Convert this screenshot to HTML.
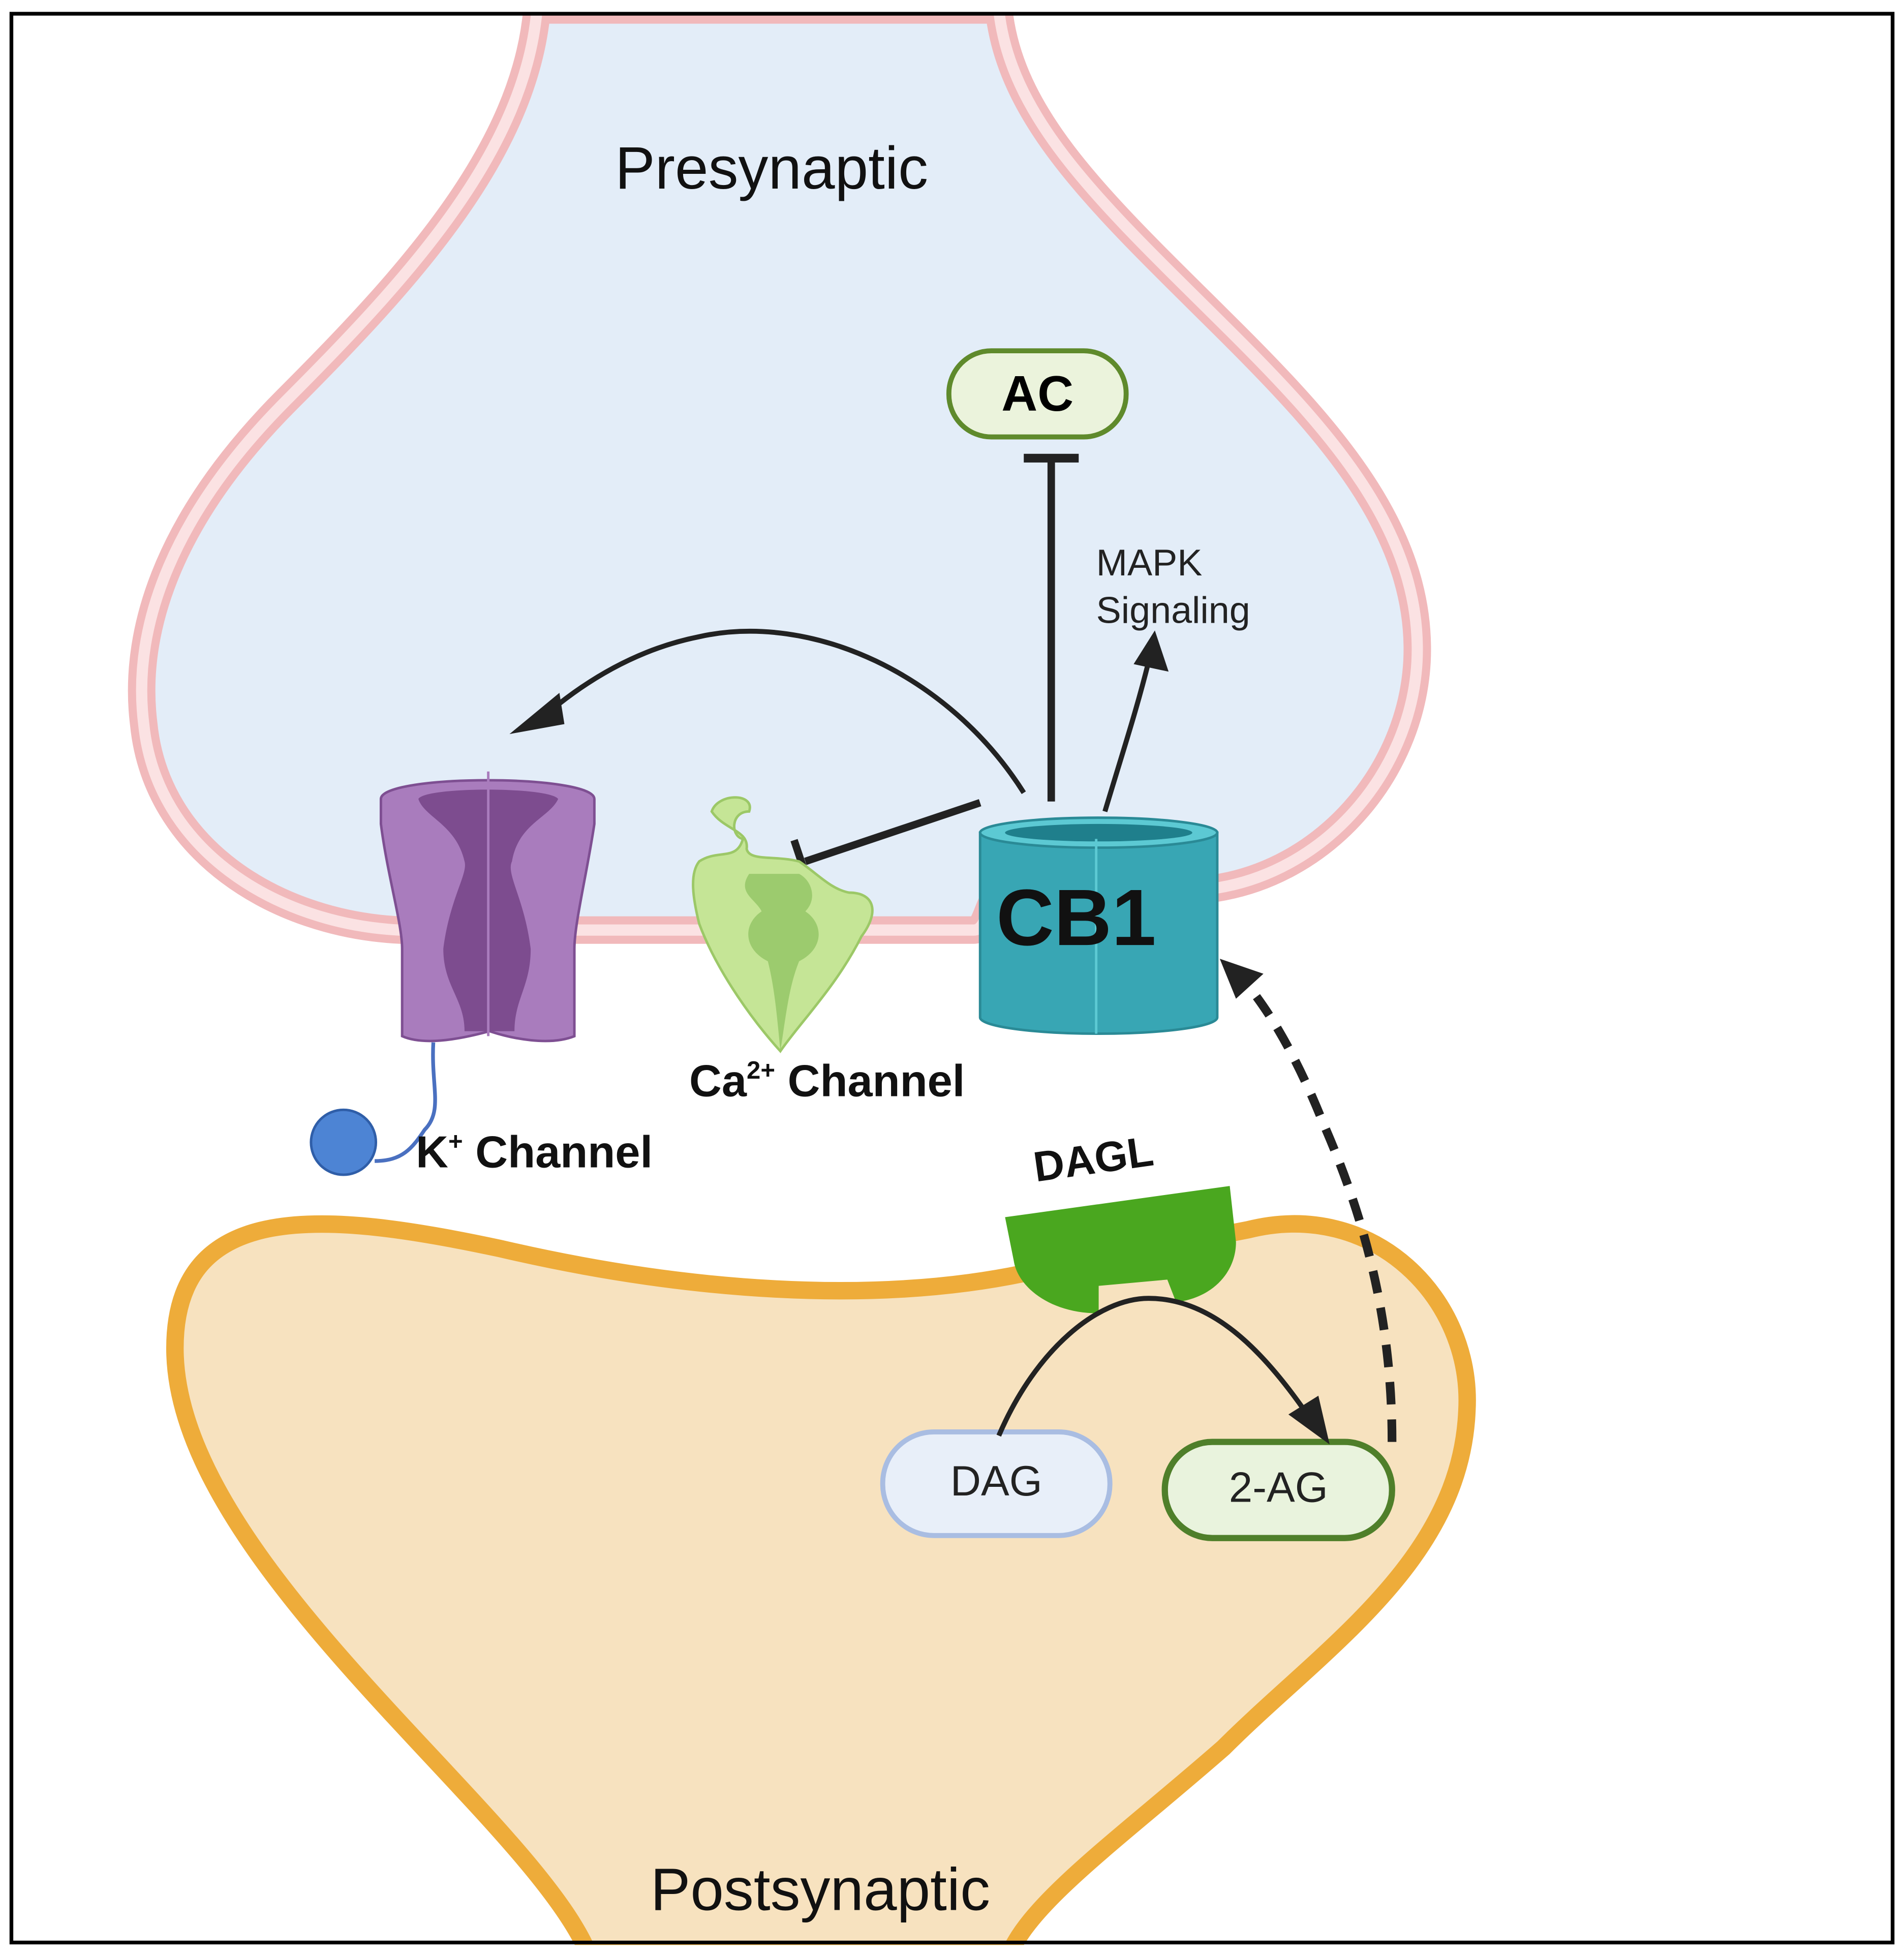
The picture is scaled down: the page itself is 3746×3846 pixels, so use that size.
<!DOCTYPE html>
<html><head><meta charset="utf-8"><style>html,body{margin:0;padding:0;background:#fff}svg{display:block}</style></head>
<body>
<svg width="3746" height="3846" viewBox="0 0 1525 1566" xmlns="http://www.w3.org/2000/svg" font-family="Liberation Sans, sans-serif">
<rect x="0" y="0" width="1525" height="1566" fill="#fff"/>
<!-- Presynaptic -->
<path d="M430 8 C420 120,330 220,230 320 C140 410,105 500,115 580 C125 680,220 740,320 745 L780 745 C790 745,790 725,800 715 L970 712 C1060 700,1130 620,1135 530 C1140 430,1070 350,990 270 C890 170,810 100,800 8 Z" fill="#e3edf8" stroke="#f1b9bb" stroke-width="22"/>
<path d="M430 8 C420 120,330 220,230 320 C140 410,105 500,115 580 C125 680,220 740,320 745 L780 745 C790 745,790 725,800 715 L970 712 C1060 700,1130 620,1135 530 C1140 430,1070 350,990 270 C890 170,810 100,800 8" fill="none" stroke="#fbe2e3" stroke-width="9"/>
<rect x="0" y="0" width="1525" height="10" fill="#fff"/>
<!-- Postsynaptic -->
<path d="M470 1562 C420 1450,140 1250,140 1080 C140 960,260 970,400 1000 C550 1035,700 1045,820 1020 L1000 985 C1100 960,1180 1040,1175 1130 C1170 1250,1060 1320,980 1400 C900 1470,830 1520,810 1562 Z" fill="#f7e2bf" stroke="#eeac3a" stroke-width="14"/>
<!-- border -->
<rect x="9" y="11" width="1507" height="1545" fill="none" stroke="#000" stroke-width="3"/>
<rect x="0" y="1558" width="1525" height="8" fill="#fff"/>
<text x="618" y="151" font-size="48" text-anchor="middle" fill="#111">Presynaptic</text>
<text x="657" y="1530" font-size="48" text-anchor="middle" fill="#111">Postsynaptic</text>
<!-- AC -->
<rect x="760" y="281" width="142" height="69" rx="34" fill="#ebf3dc" stroke="#5f8a2c" stroke-width="4"/>
<text x="831" y="329" font-size="40" font-weight="bold" text-anchor="middle">AC</text>
<line x1="842" y1="642" x2="842" y2="368" stroke="#222" stroke-width="6"/>
<line x1="820" y1="367" x2="864" y2="367" stroke="#222" stroke-width="7"/>
<text x="878" y="461" font-size="30" fill="#222">MAPK</text>
<text x="878" y="499" font-size="30" fill="#222">Signaling</text>
<path d="M885 650 C900 600,910 570,920 530" fill="none" stroke="#222" stroke-width="4"/>
<polygon points="925,505 936,538 908,532" fill="#222"/>
<path d="M820 635 C760 540,650 490,560 510 C510 520,470 545,440 570" fill="none" stroke="#222" stroke-width="4"/>
<polygon points="408,588 448,555 452,580" fill="#222"/>
<line x1="785" y1="643" x2="645" y2="690" stroke="#222" stroke-width="6"/>
<line x1="636" y1="673" x2="649" y2="712" stroke="#222" stroke-width="6"/>
<!-- CB1 -->
<path d="M785 667 L785 815 A95 13 0 0 0 975 815 L975 667 Z" fill="#38a6b4" stroke="#2a8a96" stroke-width="2"/>
<ellipse cx="880" cy="667" rx="95" ry="12" fill="#5cc9d3" stroke="#2a8a96" stroke-width="2"/>
<ellipse cx="880" cy="667" rx="75" ry="7" fill="#1f7f8c"/>
<line x1="878" y1="672" x2="878" y2="828" stroke="#5cc9d3" stroke-width="2"/>
<text x="862" y="757" font-size="64" font-weight="bold" text-anchor="middle" fill="#111">CB1</text>
<!-- K channel -->
<path d="M305 640 C305 620,476 620,476 640 L476 660 C470 700,460 740,460 760 L460 830 C440 838,410 832,392 826 C370 832,340 838,322 830 L322 760 C322 740,310 700,305 660 Z" fill="#a97cbd" stroke="#7e4f92" stroke-width="2"/>
<path d="M335 640 C340 630,440 630,447 640 C440 655,415 660,410 690 C405 700,420 720,425 760 C425 790,412 800,412 826 L372 826 C372 800,355 790,355 760 C360 720,375 700,372 690 C365 660,340 655,335 640 Z" fill="#7d4c8f"/>
<line x1="391" y1="618" x2="391" y2="830" stroke="#a97cbd" stroke-width="2"/>
<path d="M347 835 C345 870,355 890,340 905 C330 920,322 930,300 930" fill="none" stroke="#4a70c0" stroke-width="3"/>
<circle cx="275" cy="915" r="26" fill="#4d84d4" stroke="#2f5ea8" stroke-width="2"/>
<text x="333" y="935" font-size="36" font-weight="bold" fill="#111">K<tspan font-size="20" dy="-14">+</tspan><tspan dy="14"> Channel</tspan></text>
<!-- Ca channel -->
<path d="M570 650 C575 635,605 635,600 650 C585 650,585 670,595 672 C590 690,575 680,560 690 C552 700,555 720,560 740 C575 780,605 820,625 842 C640 820,670 790,690 750 C705 730,700 715,680 715 C665 712,655 700,640 690 C620 685,600 690,598 680 C600 665,580 665,570 650 Z" fill="#c5e596" stroke="#9cc867" stroke-width="2"/>
<path d="M600 700 C590 715,605 720,610 730 C595 740,595 760,615 770 C620 790,622 810,625 842 C630 810,632 790,640 770 C660 760,660 740,645 730 C655 720,650 705,640 700 Z" fill="#9ccb6e"/>
<text x="552" y="878" font-size="36" font-weight="bold" fill="#111">Ca<tspan font-size="20" dy="-14">2+</tspan><tspan dy="14"> Channel</tspan></text>
<!-- DAGL -->
<text x="876" y="940" font-size="34" font-weight="bold" text-anchor="middle" transform="rotate(-8 876 930)" fill="#111">DAGL</text>
<path d="M805 975 L985 950 L990 995 C990 1020,970 1040,942 1043 L935 1025 L880 1030 L880 1052 C840 1052,815 1030,812 1010 Z" fill="#4aa71f"/>
<!-- DAG / 2-AG -->
<rect x="707" y="1147" width="182" height="83" rx="41" fill="#e8eff9" stroke="#a9bde2" stroke-width="4"/>
<text x="798" y="1198" font-size="34" text-anchor="middle" fill="#222">DAG</text>
<rect x="933" y="1155" width="182" height="77" rx="38" fill="#e9f3dd" stroke="#4f7f2a" stroke-width="5"/>
<text x="1024" y="1203" font-size="34" text-anchor="middle" fill="#222">2-AG</text>
<path d="M800 1150 C830 1080,880 1040,920 1040 C970 1040,1010 1080,1045 1130" fill="none" stroke="#222" stroke-width="4"/>
<polygon points="1065,1157 1032,1133 1056,1118" fill="#222"/>
<path d="M1115 1155 C1115 1060,1095 980,1060 900 C1040 850,1020 815,1000 790" fill="none" stroke="#222" stroke-width="7" stroke-dasharray="18 12"/>
<polygon points="977,768 1012,780 990,800" fill="#222"/>
</svg>
</body></html>
